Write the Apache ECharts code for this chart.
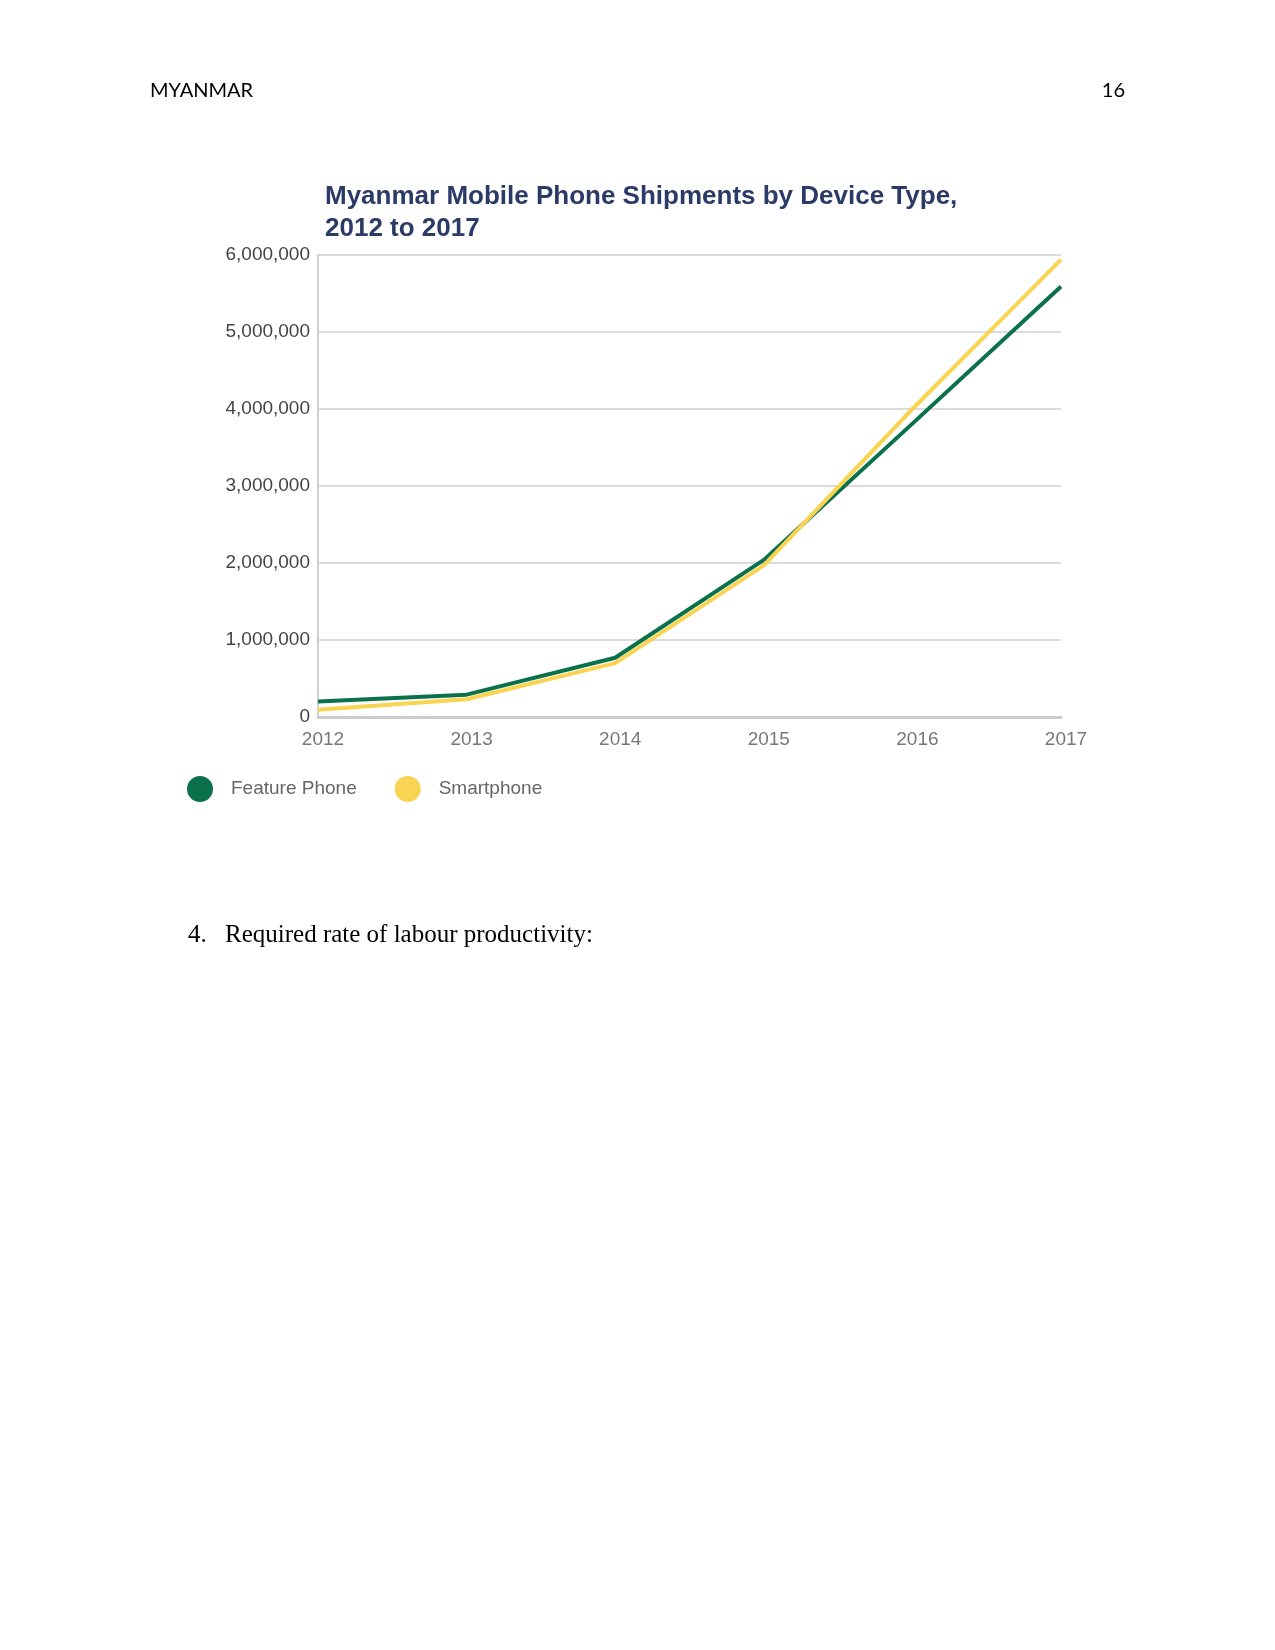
<!DOCTYPE html>
<html>
<head>
<meta charset="utf-8">
<script src="https://cdn.jsdelivr.net/npm/echarts@6/dist/echarts.min.js"></script>
<style>
html,body{margin:0;padding:0;background:#fff;}
#chart{width:1275px;height:1650px;}
</style>
</head>
<body>
<div id="chart"></div>
<script>
const years = ['2012','2013','2014','2015','2016','2017'];
const featurePhone = [200000, 290000, 770000, 2040000, 3810000, 5590000];
const smartphone = [95000, 230000, 700000, 1970000, 4000000, 5940000];
const seriesNames = ['Feature Phone', 'Smartphone'];
const titleLines = ['Myanmar Mobile Phone Shipments by Device Type,', '2012 to 2017'];

const chart = echarts.init(document.getElementById('chart'), null, {renderer:'canvas'});
const fmt = v => v === 0 ? '0' : v.toLocaleString('en-US');
chart.setOption({
  animation: false,
  backgroundColor: '#ffffff',
  title: {
    text: titleLines.join('\n'),
    left: 325, top: 181, padding: 0,
    textStyle: {fontFamily: 'Liberation Sans', fontWeight: 'bold', fontSize: 26, lineHeight: 32, color: '#2b3a67'}
  },
  grid: {left: 318, right: 214, top: 255, bottom: 933, containLabel: false},
  legend: {
    left: 187, top: 776, padding: 0,
    icon: 'circle', itemWidth: 26, itemHeight: 26, itemGap: 38,
    textStyle: {fontFamily: 'Liberation Sans', fontSize: 19, color: '#666', padding: [0,0,0,13]},
    data: seriesNames
  },
  xAxis: {
    type: 'category', data: years, boundaryGap: false,
    axisLine: {lineStyle: {color: '#cccccc', width: 3}},
    axisTick: {show: false},
    axisLabel: {fontFamily: 'Liberation Sans', fontSize: 19, color: '#777', margin: 13, padding: [0,0,0,10]}
  },
  yAxis: {
    type: 'value', min: 0, max: 6000000, interval: 1000000,
    axisLine: {show: true, lineStyle: {color: '#d0d0d0', width: 2}},
    axisTick: {show: false},
    splitLine: {lineStyle: {color: '#dcdcdc', width: 2}},
    axisLabel: {fontFamily: 'Liberation Sans', fontSize: 19, color: '#444', margin: 8, formatter: fmt}
  },
  series: [
    {name: seriesNames[0], type: 'line', data: featurePhone, symbol: 'none', smooth: false,
     lineStyle: {color: '#0b714a', width: 4}, itemStyle: {color: '#0b714a'}, z: 2},
    {name: seriesNames[1], type: 'line', data: smartphone, symbol: 'none', smooth: false,
     lineStyle: {color: '#f8d452', width: 4}, itemStyle: {color: '#f8d452'}, z: 3}
  ],
  graphic: [
    {type: 'text', left: 150, top: 81, style: {text: 'MYANMAR', font: '20px Lato', fill: '#000'}},
    {type: 'text', right: 150, top: 81, style: {text: '16', font: '20px Lato', fill: '#000'}},
    {type: 'text', left: 188, top: 923, style: {text: '4.', font: '25px "Liberation Serif"', fill: '#000'}},
    {type: 'text', left: 225, top: 923, style: {text: 'Required rate of labour productivity:', font: '25px "Liberation Serif"', fill: '#000'}}
  ]
});
</script>
</body>
</html>
